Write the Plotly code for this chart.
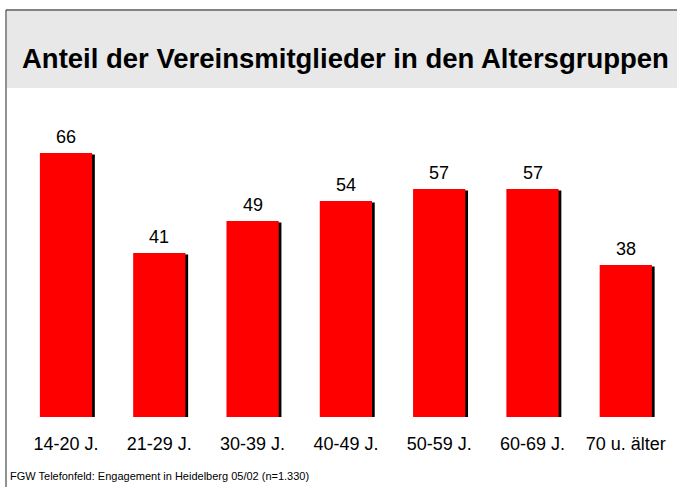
import plotly.graph_objects as go

# Share of club members per age group (percent)
categories = ["14-20 J.", "21-29 J.", "30-39 J.", "40-49 J.", "50-59 J.", "60-69 J.", "70 u. älter"]
values = [66, 41, 49, 54, 57, 57, 38]

title_text = "Anteil der Vereinsmitglieder in den Altersgruppen"
footer_text = "FGW Telefonfeld: Engagement in Heidelberg 05/02 (n=1.330)"

W, H = 677, 487
FONT = "Arial, Liberation Sans, sans-serif"

bar_w = 0.56
shadow_dx = 0.029   # horizontal offset of the drop shadow (category units)
shadow_dy = 0.4     # vertical offset of the drop shadow (value units)

fig = go.Figure()

# drop shadow behind each bar
fig.add_trace(go.Bar(
    x=categories, y=values, base=[-shadow_dy] * len(values),
    width=bar_w, offset=-bar_w / 2 + shadow_dx,
    marker=dict(color="black", line=dict(width=0)),
    hoverinfo="skip", showlegend=False,
))
# main red bars
fig.add_trace(go.Bar(
    x=categories, y=values,
    width=bar_w, offset=-bar_w / 2,
    marker=dict(color="#ff0000", line=dict(width=0)),
    showlegend=False,
))

# value labels above the bars
for c, v in zip(categories, values):
    fig.add_annotation(x=c, y=v, text=str(v), showarrow=False,
                       yanchor="bottom", yshift=4,
                       font=dict(family=FONT, size=18, color="black"))

# title band
fig.add_shape(type="rect", xref="paper", yref="paper",
              x0=7 / W, x1=1, y0=1 - 88 / H, y1=1 - 11 / H,
              fillcolor="#e8e8e8", line=dict(width=0), layer="below")
# frame lines (top and left)
fig.add_shape(type="line", xref="paper", yref="paper",
              x0=6 / W, x1=1, y0=1 - 10 / H, y1=1 - 10 / H,
              line=dict(color="#5a5a5a", width=1.5))
fig.add_shape(type="line", xref="paper", yref="paper",
              x0=6 / W, x1=6 / W, y0=0, y1=1 - 10 / H,
              line=dict(color="#222222", width=1))

fig.add_annotation(xref="paper", yref="paper", x=345 / W, y=1 - 59 / H,
                   text="<b>" + title_text + "</b>", showarrow=False,
                   xanchor="center", yanchor="middle",
                   font=dict(family=FONT, size=27.5, color="black"))
fig.add_annotation(xref="paper", yref="paper", x=8 / W, y=1 - 476 / H,
                   text=footer_text, showarrow=False,
                   xanchor="left", yanchor="middle",
                   font=dict(family=FONT, size=11, color="black"))

x0_px, slot = 66 - 93.3 / 2, 93.3
fig.update_layout(
    width=W, height=H,
    margin=dict(l=0, r=0, t=0, b=0),
    paper_bgcolor="white", plot_bgcolor="rgba(0,0,0,0)",
    barmode="overlay",
    xaxis=dict(domain=[x0_px / W, (x0_px + 7 * slot) / W],
               range=[-0.5, 6.5], showgrid=False, zeroline=False, showline=False,
               ticks="outside", ticklen=10, tickcolor="rgba(0,0,0,0)",
               tickfont=dict(family=FONT, size=18, color="black")),
    yaxis=dict(domain=[70 / H, 390 / H], range=[0, 80], visible=False),
)

fig.write_html("out.html")
